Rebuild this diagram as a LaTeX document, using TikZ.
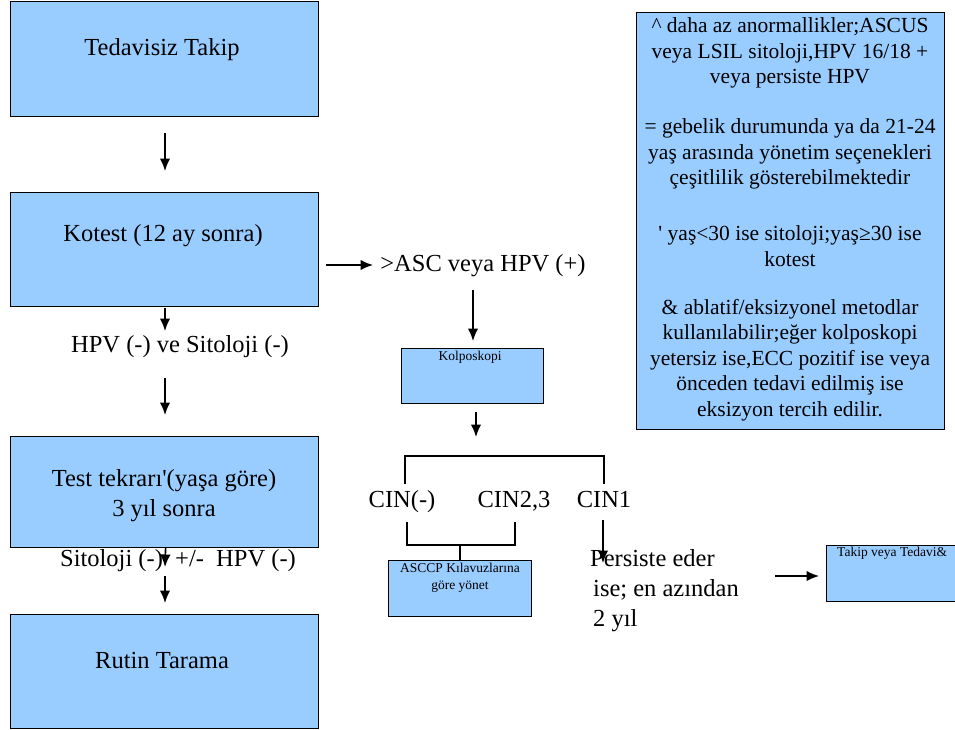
\documentclass[tikz,border=0pt]{standalone}
\usepackage{fontspec}
\setmainfont{Liberation Serif}
\usetikzlibrary{arrows.meta}
\definecolor{boxblue}{HTML}{99CCFF}
\begin{document}
\begin{tikzpicture}[x=1pt,y=-1pt,
  box/.style={draw=black, line width=1.2pt, fill=boxblue, inner sep=0pt, anchor=north west},
  big/.style={font=\fontsize{24.5}{30}\selectfont, align=center, inner sep=0pt},
  small/.style={font=\fontsize{13.5}{17}\selectfont, align=center, inner sep=0pt},
  note/.style={font=\fontsize{21.5}{25.4}\selectfont, align=center, inner sep=0pt},
  flow/.style={line width=1.6pt, -{Latex[length=12.5pt,width=10.5pt]}},
  link/.style={line width=1.2pt}]
\useasboundingbox (0,0) rectangle (955,729);
\clip (0,0) rectangle (955,729);

% main column boxes
\node[box, minimum width=308pt, minimum height=115pt] (tedavisiz) at (10,1) {};
\node[box, minimum width=308pt, minimum height=114pt] (kotest) at (10,192) {};
\node[box, minimum width=308pt, minimum height=111pt] (tekrar) at (10,436) {};
\node[box, minimum width=308pt, minimum height=114pt] (rutin) at (10,614) {};

% right-hand boxes
\node[box, minimum width=142pt, minimum height=55pt] (kolpo) at (401,348) {};
\node[box, minimum width=143pt, minimum height=56pt] (asccp) at (388,560) {};
\node[box, minimum width=160pt, minimum height=56pt] (takip) at (826,545) {};
\node[box, minimum width=308pt, minimum height=417pt] (notes) at (636,12) {};

% texts
\node[big] (ttedavisiz) at (162,50) {Tedavisiz Takip};
\node[big] (tkotest) at (163,236) {Kotest (12 ay sonra)};
\node[big] (hpvneg) at (180,347) {HPV (-) ve Sitoloji (-)};
\node[big] (ttekrar) at (164,496) {Test tekrarı\textquotesingle(yaşa göre)\\3 yıl sonra};
\node[big] (sitneg) at (178,561) {Sitoloji (-)\ \ +/-\ \ HPV (-)};
\node[big] (trutin) at (162,660) {Rutin Tarama};
\node[big] (ascpos) at (483,266) {>ASC veya HPV (+)};
\node[small] (tkolpo) at (470,357) {Kolposkopi};
\node[big, anchor=base] (cinneg) at (402,507) {CIN(-)};
\node[big, anchor=base] (cin23) at (514,507) {CIN2,3};
\node[big, anchor=base] (cin1) at (604,507) {CIN1};
\node[small] (tasccp) at (460,578) {ASCCP Kılavuzlarına\\göre yönet};
\node[big, align=left, anchor=west] (persist) at (590,591)
  {Persiste eder\\\hspace{3pt}ise; en azından\\\hspace{3pt}2 yıl};
\node[small, anchor=west] (ttakip) at (837,553) {Takip veya Tedavi\&};

% footnotes
\node[note] (n1) at (790,53) {\^{} daha az anormallikler;ASCUS\\veya\ LSIL sitoloji,HPV 16/18 +\\veya\ persiste HPV};
\node[note] (n2) at (790,154) {= gebelik durumunda ya da 21-24\\yaş arasında yönetim seçenekleri\\çeşitlilik gösterebilmektedir};
\node[note] (n3) at (790,246) {\textquotesingle\ yaş<30 ise sitoloji;yaş≥30 ise\\kotest};
\node[note] (n4) at (790,360) {\& ablatif/eksizyonel metodlar\\kullanılabilir;eğer kolposkopi\\yetersiz ise,ECC pozitif ise veya\\önceden tedavi edilmiş ise\\eksizyon tercih edilir.};

% free arrow ends
\coordinate (a1s) at (165,133); \coordinate (a1e) at (165,171);
\coordinate (a2s) at (165,308); \coordinate (a2e) at (165,331);
\coordinate (a3s) at (165,378); \coordinate (a3e) at (165,415);
\coordinate (a4e) at (165,567);
\coordinate (a5s) at (165,576); \coordinate (a5e) at (165,603);
\coordinate (a6s) at (326,265); \coordinate (a6e) at (373,265);
\coordinate (a7s) at (473,290); \coordinate (a7e) at (473,341);
\coordinate (a8s) at (476,412); \coordinate (a8e) at (476,437);
\coordinate (a9s) at (603,520); \coordinate (a9e) at (603,563);
\coordinate (a10s) at (775,576); \coordinate (a10e) at (819,576);
\coordinate (brl) at (405,484); \coordinate (brr) at (604,484);
\coordinate (lbl) at (407,522); \coordinate (lbr) at (515,522);
\coordinate (lbm) at (460,545);

% connectors
\draw[flow] (a1s) -- (a1e);
\draw[flow] (a2s) -- (a2e);
\draw[flow] (a3s) -- (a3e);
\draw[flow] (tekrar.south) ++(1,0) -- (a4e);
\draw[flow] (a5s) -- (a5e);
\draw[flow] (a6s) -- (a6e);
\draw[flow] (a7s) -- (a7e);
\draw[flow] (a8s) -- (a8e);
\draw[link] (brl) -- ++(0,-28) -| (brr);
\draw[flow] (a9s) -- (a9e);
\draw[link] (lbl) |- (lbm) -| (lbr);
\draw[link] (lbm) -- (asccp.north -| lbm);
\draw[flow] (a10s) -- (a10e);
\end{tikzpicture}
\end{document}
